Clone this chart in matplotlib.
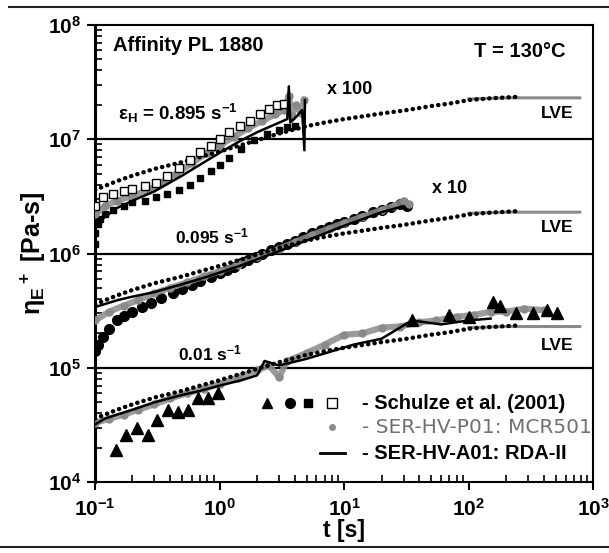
import numpy as np
import matplotlib
matplotlib.use('Agg')
import matplotlib.pyplot as plt
from matplotlib.lines import Line2D

plt.rcParams['font.family'] = 'Liberation Sans'
plt.rcParams['font.weight'] = 'bold'
plt.rcParams['mathtext.default'] = 'regular'

GRAY = '#8a8a8a'

# LVE envelope (unshifted, 0.01 1/s level); upper curves are shifted x10 and x100
t_lve = [0.1, 0.15, 0.2, 0.3, 0.5, 0.7, 1, 1.5, 2, 3, 5, 7, 10, 15, 20, 30, 50, 70, 100, 150, 250]
eta_lve = [3.6e4, 4.3e4, 4.8e4, 5.5e4, 6.3e4, 7.0e4, 7.8e4, 8.9e4, 9.8e4, 1.12e5, 1.3e5, 1.4e5,
           1.5e5, 1.6e5, 1.68e5, 1.78e5, 1.95e5, 2.05e5, 2.2e5, 2.28e5, 2.35e5]
t_lve_tail = [100, 200, 300, 500, 780]
eta_lve_tail = [2.25e5, 2.3e5, 2.3e5, 2.3e5, 2.3e5]
shifts = [1, 10, 100]

# 0.01 1/s
t_tri = [0.147, 0.177, 0.217, 0.266, 0.315, 0.385, 0.464, 0.557, 0.67, 0.81, 0.97,
         35, 69, 100, 157, 180, 240, 330, 427, 513]
eta_tri = [1.9e4, 2.6e4, 3.0e4, 2.6e4, 3.5e4, 4.3e4, 4.1e4, 4.3e4, 5.4e4, 5.5e4, 6.0e4,
           2.6e5, 2.9e5, 2.8e5, 3.8e5, 3.5e5, 3.0e5, 3.05e5, 3.2e5, 3.0e5]
t_ser1 = [0.1, 0.13, 0.17, 0.22, 0.3, 0.4, 0.55, 0.75, 1, 1.4, 2, 2.5, 3.0, 3.5, 5, 7, 10, 14, 20,
          28, 40, 55, 80, 110, 150, 200, 280, 400]
eta_ser1 = [3.3e4, 3.6e4, 3.9e4, 4.3e4, 4.8e4, 5.4e4, 6.0e4, 6.6e4, 7.2e4, 8.2e4, 9.5e4, 1.05e5,
            8.3e4, 1.15e5, 1.35e5, 1.6e5, 1.95e5, 2.0e5, 2.25e5, 2.3e5, 2.5e5, 2.6e5, 2.8e5,
            2.9e5, 3.1e5, 3.1e5, 3.3e5, 3.2e5]
t_rda1 = [0.1, 0.12, 0.15, 0.2, 0.3, 0.5, 0.7, 1, 1.5, 2, 2.3, 2.6, 3, 5, 8, 12, 20, 35, 60, 100, 150]
eta_rda1 = [3.2e4, 3.6e4, 3.9e4, 4.3e4, 5.0e4, 5.8e4, 6.3e4, 7.0e4, 7.8e4, 8.6e4, 1.15e5, 1.1e5,
            1.05e5, 1.2e5, 1.4e5, 1.6e5, 1.8e5, 2.6e5, 2.4e5, 2.6e5, 2.7e5]

# 0.095 1/s (x10)
t_circ = [0.1, 0.105, 0.116, 0.13, 0.15, 0.17, 0.2, 0.24, 0.28, 0.34, 0.42, 0.5, 0.6, 0.7, 0.85, 1,
          1.15, 1.3, 1.5, 1.7, 1.95, 2.2, 2.6, 3, 3.5, 4, 4.7, 5.5, 6.5, 7.5, 8.7, 10, 12, 14, 17,
          20, 24, 28, 32]
eta_circ = [1.4e5, 1.6e5, 1.85e5, 2.2e5, 2.6e5, 2.85e5, 3.1e5, 3.4e5, 3.7e5, 4.1e5, 4.5e5, 4.9e5,
            5.3e5, 5.7e5, 6.2e5, 6.7e5, 7.2e5, 7.7e5, 8.2e5, 8.8e5, 9.4e5, 1.0e6, 1.07e6, 1.15e6,
            1.22e6, 1.3e6, 1.4e6, 1.5e6, 1.6e6, 1.7e6, 1.8e6, 1.9e6, 2.0e6, 2.15e6, 2.3e6,
            2.4e6, 2.55e6, 2.7e6, 2.6e6]
t_ser2 = [0.1, 0.13, 0.17, 0.22, 0.3, 0.4, 0.55, 0.75, 1, 1.4, 2, 3, 4, 5.5, 7.5, 10, 14, 20, 25, 30, 33]
eta_ser2 = [2.6e5, 3.1e5, 3.5e5, 3.9e5, 4.5e5, 5.0e5, 5.6e5, 6.3e5, 7.0e5, 8.0e5, 9.3e5, 1.1e6,
            1.25e6, 1.45e6, 1.65e6, 1.85e6, 2.1e6, 2.4e6, 2.6e6, 2.9e6, 2.7e6]
t_rda2 = [0.1, 0.15, 0.2, 0.3, 0.5, 0.7, 1, 1.5, 2, 3, 5, 7, 10, 15, 20, 30]
eta_rda2 = [3.4e5, 3.9e5, 4.2e5, 4.6e5, 5.4e5, 6.0e5, 6.8e5, 7.9e5, 8.9e5, 1.05e6, 1.3e6, 1.5e6,
            1.75e6, 2.05e6, 2.3e6, 2.6e6]

# 0.895 1/s (x100)
t_osq = [0.1, 0.116, 0.14, 0.17, 0.2, 0.25, 0.31, 0.38, 0.47, 0.58, 0.7, 0.85, 1.0, 1.2, 1.45,
         1.75, 2.1, 2.5, 2.9, 3.3]
eta_osq = [2.6e6, 3.1e6, 3.3e6, 3.5e6, 3.7e6, 3.9e6, 4.1e6, 4.8e6, 5.6e6, 6.6e6, 7.7e6, 8.8e6,
           1.0e7, 1.15e7, 1.3e7, 1.45e7, 1.65e7, 1.85e7, 2.0e7, 2.05e7]
t_fsq = [0.1, 0.1, 0.105, 0.11, 0.12, 0.14, 0.17, 0.2, 0.25, 0.31, 0.38, 0.47, 0.58, 0.7, 0.85,
         1.0, 1.2, 1.5, 1.9, 2.4, 3.0, 3.5, 4.0]
eta_fsq = [1.2e6, 1.5e6, 1.8e6, 2.0e6, 2.2e6, 2.4e6, 2.6e6, 2.8e6, 2.9e6, 3.1e6, 3.3e6, 3.6e6,
           4.0e6, 4.6e6, 5.3e6, 6.0e6, 6.9e6, 8.2e6, 9.8e6, 1.1e7, 1.2e7, 1.27e7, 1.3e7]
t_ser3 = [0.1, 0.12, 0.15, 0.2, 0.27, 0.35, 0.45, 0.6, 0.8, 1.0, 1.3, 1.7, 2.2, 2.8, 3.3, 3.6,
          3.8, 4.1, 4.5, 4.8]
eta_ser3 = [2.2e6, 2.6e6, 2.9e6, 3.2e6, 3.6e6, 4.2e6, 5.0e6, 6.2e6, 7.6e6, 8.8e6, 1.05e7, 1.25e7,
            1.45e7, 1.65e7, 1.8e7, 2.4e7, 1.6e7, 2.0e7, 1.7e7, 2.2e7]
t_rda3 = [0.1, 0.15, 0.2, 0.3, 0.5, 0.7, 1, 1.5, 2, 2.8, 3.5, 3.6, 3.7, 4.2, 4.6, 4.8, 4.85]
eta_rda3 = [1.8e6, 2.5e6, 2.9e6, 3.5e6, 4.8e6, 6.0e6, 7.6e6, 9.8e6, 1.15e7, 1.35e7, 1.5e7, 2.9e7,
            1.4e7, 1.6e7, 1.8e7, 8.0e6, 2.2e7]

fig = plt.figure(figsize=(6.09, 5.53), dpi=100)
ax = fig.add_axes([0.156, 0.128, 0.818, 0.827])
ax.set_xscale('log')
ax.set_yscale('log')
ax.set_xlim(0.1, 1000)
ax.set_ylim(1e4, 1e8)

for y in [1e5, 1e6, 1e7]:
    ax.axhline(y, color='black', lw=1.6, zorder=1)

dot_style = dict(color='black', lw=3.2, linestyle=(0, (0.05, 1.4)),
                 dash_capstyle='round', zorder=4)

# SER-HV-P01 data (gray)
for tt, ee in [(t_ser1, eta_ser1), (t_ser2, eta_ser2), (t_ser3, eta_ser3)]:
    ax.plot(tt, ee, color=GRAY, lw=4.5, alpha=0.85, zorder=3)
    ax.plot(tt, ee, 'o', color=GRAY, ms=5, zorder=3)

# Schulze et al. markers
ax.plot(t_tri, eta_tri, '^', color='black', ms=8, zorder=5)
ax.plot(t_circ, eta_circ, 'o', color='black', ms=7, zorder=2)
ax.plot(t_fsq, eta_fsq, 's', color='black', ms=5, zorder=2)
ax.plot(t_osq, eta_osq, 's', mfc='white', mec='black', mew=1, ms=6, zorder=5)

# RDA-II solid lines
for tt, ee in [(t_rda1, eta_rda1), (t_rda2, eta_rda2), (t_rda3, eta_rda3)]:
    ax.plot(tt, ee, color='black', lw=1.8, zorder=6)

# LVE curves
for s in shifts:
    ax.plot(t_lve_tail, np.array(eta_lve_tail) * s, color=GRAY, lw=2.2, zorder=2)
    ax.plot(t_lve, np.array(eta_lve) * s, **dot_style)

# annotations
tkw = dict(transform=ax.transAxes, fontweight='bold')
ax.text(0.036, 0.956, 'Affinity PL 1880', va='center', ha='left', fontsize=14.5, **tkw)
ax.text(0.945, 0.941, 'T = 130°C', va='center', ha='right', fontsize=14.5, **tkw)
ax.text(0.046, 0.807, r'$\varepsilon_H$ = 0.895 s$^{-1}$', va='center', ha='left',
        fontsize=13.5, **tkw)
ax.text(0.466, 0.858, 'x 100', va='center', ha='left', fontsize=13, **tkw)
ax.text(0.677, 0.643, 'x 10', va='center', ha='left', fontsize=13, **tkw)
for yy in [0.807, 0.556, 0.298]:
    ax.text(0.96, yy, 'LVE', va='center', ha='right', fontsize=12.5, **tkw)
ax.text(0.161, 0.538, r'0.095 s$^{-1}$', va='center', ha='left', fontsize=12.5, **tkw)
ax.text(0.167, 0.282, r'0.01 s$^{-1}$', va='center', ha='left', fontsize=12.5, **tkw)

# legend drawn by hand
lkw = dict(transform=ax.transAxes, clip_on=False, zorder=7)
ax.plot([0.345], [0.173], '^', color='black', ms=7, **lkw)
ax.plot([0.392], [0.173], 'o', color='black', ms=7, **lkw)
ax.plot([0.428], [0.173], 's', color='black', ms=6, **lkw)
ax.plot([0.476], [0.173], 's', mfc='white', mec='black', mew=1, ms=7, **lkw)
ax.plot([0.476], [0.120], 'o', color=GRAY, ms=4, **lkw)
ax.plot([0.452, 0.502], [0.063, 0.063], color='black', lw=2, **lkw)
ax.text(0.536, 0.173, '- Schulze et al. (2001)', va='center', ha='left', fontsize=14.5, **tkw)
ax.text(0.536, 0.120, '- SER-HV-P01: MCR501', va='center', ha='left', transform=ax.transAxes,
        fontsize=14.5, fontweight='normal', family='DejaVu Sans', color='#707070', zorder=0)
ax.text(0.536, 0.063, '- SER-HV-A01: RDA-II', va='center', ha='left', fontsize=14.5, **tkw)

# axes styling
for side in ['top', 'right', 'bottom']:
    ax.spines[side].set_linewidth(1.5)
ax.spines['left'].set_linewidth(2.2)
ax.tick_params(which='both', top=False, right=False, labelsize=15)
ax.tick_params(which='major', direction='out', length=6, width=1.5)
ax.tick_params(axis='x', which='major', pad=5)
ax.tick_params(axis='y', which='major', pad=4)
ax.tick_params(which='minor', direction='in', length=5, width=1.2)
ax.set_xlabel('t [s]', fontsize=16.5, fontweight='bold', labelpad=0)
ax.set_ylabel(r'$\eta_E$$^+$ [Pa-s]', fontsize=18, fontweight='bold', labelpad=0)

fig.add_artist(Line2D([0.015, 1.0], [0.987, 0.987], color='#222222', lw=1.5))
fig.add_artist(Line2D([0.0, 1.0], [0.011, 0.011], color='#222222', lw=1.5))

fig.savefig('out.png', dpi=100)
